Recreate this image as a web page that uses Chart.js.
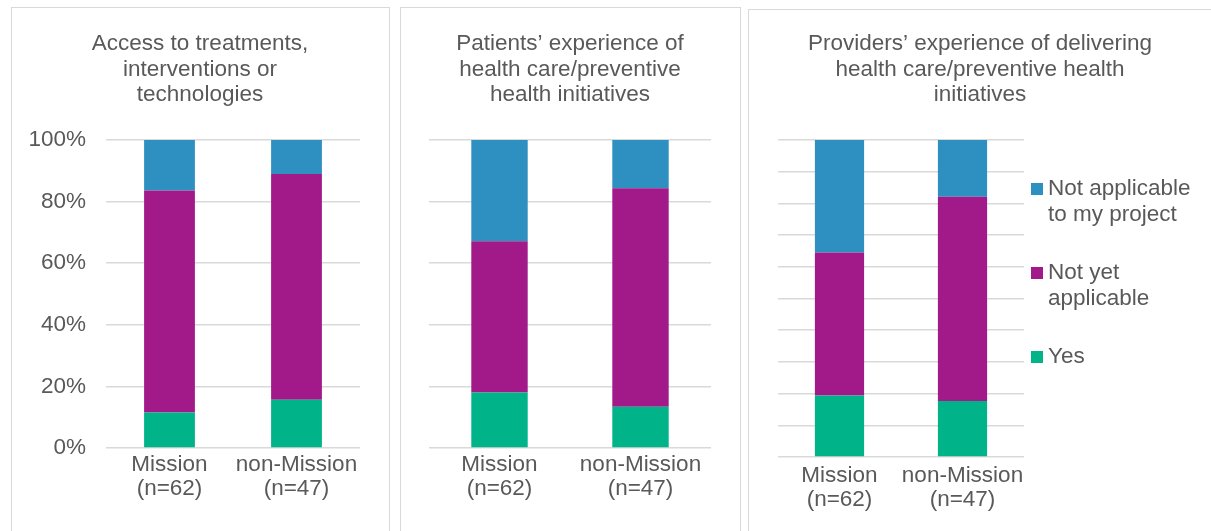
<!DOCTYPE html>
<html>
<head>
<meta charset="utf-8">
<script src="https://cdn.jsdelivr.net/npm/chart.js@4/dist/chart.umd.min.js"></script>
<style>
  html, body { margin: 0; padding: 0; background: #fff; overflow: hidden; }
  body { position: relative; width: 1211px; height: 531px; }
  .frame { position: absolute; border: 1.5px solid #d9d9d9; box-sizing: border-box; }
  canvas { position: absolute; }
</style>
</head>
<body>
<div class="frame" style="left:11px; top:7px; width:379px; height:560px;"></div>
<div class="frame" style="left:400px; top:7px; width:341px; height:560px;"></div>
<div class="frame" style="left:748px; top:9px; width:480px; height:560px;"></div>
<canvas id="accessChart" width="378" height="524" style="left:11px; top:7px;"></canvas>
<canvas id="patientsChart" width="340" height="524" style="left:400px; top:7px;"></canvas>
<canvas id="providersChart" width="462" height="522" style="left:749px; top:9px;"></canvas>
<script>
const categories = [['Mission', '(n=62)'], ['non-Mission', '(n=47)']];
const seriesNames = ['Yes', 'Not yet applicable', 'Not applicable to my project'];
const seriesColors = ['#00b388', '#a21a8a', '#2e8fc1'];

const accessTitle = ['Access to treatments,', 'interventions or', 'technologies'];
const accessYes = [11.5, 15.7];
const accessNotYet = [72.1, 73.3];
const accessNotApplicable = [16.4, 11.0];

const patientsTitle = ['Patients\u2019 experience of', 'health care/preventive', 'health initiatives'];
const patientsYes = [18.0, 13.4];
const patientsNotYet = [49.1, 70.9];
const patientsNotApplicable = [32.9, 15.7];

const providersTitle = ['Providers\u2019 experience of delivering', 'health care/preventive health', 'initiatives'];
const providersYes = [19.4, 17.7];
const providersNotYet = [45.1, 64.4];
const providersNotApplicable = [35.5, 17.9];

const FONT = 'Liberation Sans, Arial, sans-serif';
const FONT_SIZE = 22.5;
const TEXT = '#595959';
const GRID = '#d9d9d9';

// legend drawn beside the last panel, text wrapped like Excel does
const sideLegend = {
    id: 'sideLegend',
    afterDraw(chart, args, opts) {
        if (!opts.display) return;
        const ctx = chart.ctx;
        const area = chart.chartArea;
        ctx.save();
        ctx.font = FONT_SIZE + 'px ' + FONT;
        ctx.textBaseline = 'middle';
        ctx.textAlign = 'left';
        let y = area.top + 49;
        const sets = chart.data.datasets.slice().reverse();
        sets.forEach(ds => {
            const lines = wrapText(ctx, ds.label, 155);
            ctx.fillStyle = ds.backgroundColor;
            ctx.fillRect(area.right + 7, y - 6, 12, 12);
            ctx.fillStyle = TEXT;
            lines.forEach((line, i) => ctx.fillText(line, area.right + 24, y + i * 25.5));
            y += (lines.length - 1) * 25.5 + 58.5;
        });
        ctx.restore();
    }
};

function wrapText(ctx, text, maxWidth) {
    const words = text.split(' ');
    const lines = [];
    let cur = '';
    words.forEach(w => {
        const test = cur ? cur + ' ' + w : w;
        if (cur && ctx.measureText(test).width > maxWidth) {
            lines.push(cur);
            cur = w;
        } else {
            cur = test;
        }
    });
    if (cur) lines.push(cur);
    return lines;
}

function makeChart(id, cfg) {
    const ctx = document.getElementById(id).getContext('2d');
    const values = [cfg.yes, cfg.notYet, cfg.notApplicable];
    return new Chart(ctx, {
        type: 'bar',
        data: {
            labels: categories,
            datasets: seriesNames.map((name, i) => ({
                label: name,
                data: values[i],
                backgroundColor: seriesColors[i],
                borderWidth: 0,
                barPercentage: 0.4,
                categoryPercentage: 1
            }))
        },
        options: {
            responsive: false,
            animation: false,
            devicePixelRatio: 1,
            layout: { padding: 0 },
            scales: {
                x: {
                    stacked: true,
                    grid: { display: false, drawTicks: false },
                    border: { display: false },
                    ticks: { color: TEXT, font: { family: FONT, size: FONT_SIZE, lineHeight: 1.07 }, padding: cfg.xPad, maxRotation: 0, autoSkip: false },
                    afterFit: s => { s.height = cfg.xHeight; }
                },
                y: {
                    stacked: true,
                    min: 0,
                    max: 100,
                    grid: { color: GRID, lineWidth: 1.5, drawTicks: false },
                    border: { display: false },
                    ticks: {
                        display: cfg.showTicks,
                        stepSize: cfg.step,
                        padding: 20,
                        color: TEXT,
                        font: { family: FONT, size: FONT_SIZE },
                        callback: v => v + '%'
                    },
                    afterFit: s => { s.width = cfg.leftWidth; }
                },
                yr: {
                    position: 'right',
                    grid: { display: false, drawTicks: false },
                    border: { display: false },
                    ticks: { display: false },
                    afterFit: s => { s.width = cfg.rightWidth; }
                }
            },
            plugins: {
                legend: { display: false },
                tooltip: { enabled: false },
                title: {
                    display: true,
                    text: cfg.title,
                    color: TEXT,
                    font: { family: FONT, size: FONT_SIZE, weight: 'normal', lineHeight: 25.5 / FONT_SIZE },
                    padding: { top: cfg.titleTop, bottom: 32.25 }
                },
                sideLegend: { display: cfg.legend }
            }
        },
        plugins: [sideLegend]
    });
}

makeChart('accessChart', {
    title: accessTitle, yes: accessYes, notYet: accessNotYet, notApplicable: accessNotApplicable,
    showTicks: true, step: 20, leftWidth: 95, rightWidth: 29, xHeight: 83, xPad: 5, titleTop: 24.25, legend: false
});
makeChart('patientsChart', {
    title: patientsTitle, yes: patientsYes, notYet: patientsNotYet, notApplicable: patientsNotApplicable,
    showTicks: false, step: 20, leftWidth: 29, rightWidth: 29, xHeight: 83, xPad: 5, titleTop: 24.25, legend: false
});
makeChart('providersChart', {
    title: providersTitle, yes: providersYes, notYet: providersNotYet, notApplicable: providersNotApplicable,
    showTicks: false, step: 10, leftWidth: 29, rightWidth: 187, xHeight: 74, xPad: 7, titleTop: 22.25, legend: true
});
</script>
</body>
</html>
